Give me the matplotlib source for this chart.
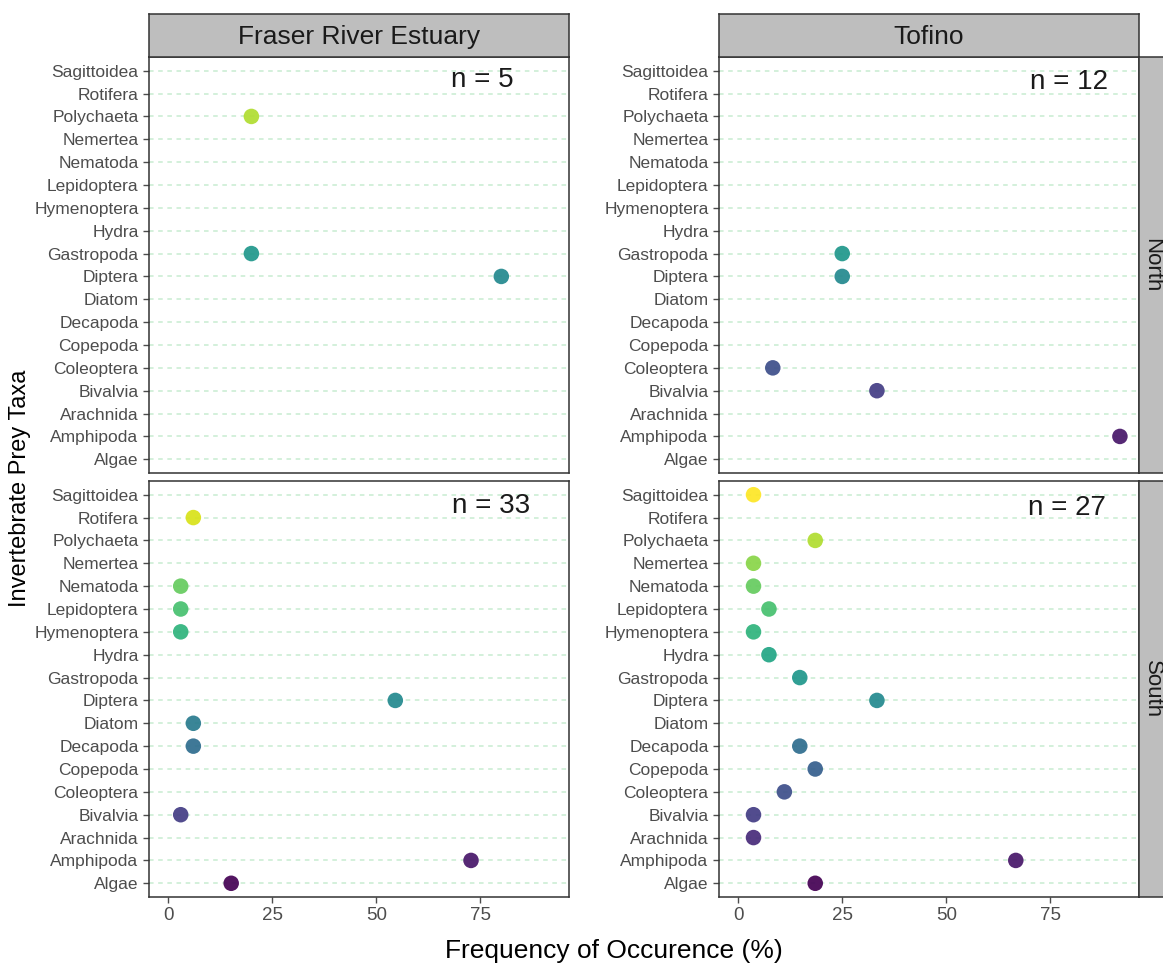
import matplotlib
matplotlib.use("Agg")
import matplotlib.pyplot as plt
import numpy as np
from matplotlib import font_manager

# taxa, bottom -> top
taxa = ["Algae", "Amphipoda", "Arachnida", "Bivalvia", "Coleoptera", "Copepoda",
        "Decapoda", "Diatom", "Diptera", "Gastropoda", "Hydra", "Hymenoptera",
        "Lepidoptera", "Nematoda", "Nemertea", "Polychaeta", "Rotifera", "Sagittoidea"]

sites = ["Fraser River Estuary", "Tofino"]
regions = ["North", "South"]

# frequency of occurence (%), missing taxon = not found
fraser_north = {"Polychaeta": 20.0, "Gastropoda": 20.0, "Diptera": 80.0}
tofino_north = {"Gastropoda": 25.0, "Diptera": 25.0, "Coleoptera": 8.33,
                "Bivalvia": 33.33, "Amphipoda": 91.67}
fraser_south = {"Rotifera": 6.06, "Nematoda": 3.03, "Lepidoptera": 3.03,
                "Hymenoptera": 3.03, "Diptera": 54.55, "Diatom": 6.06,
                "Decapoda": 6.06, "Bivalvia": 3.03, "Amphipoda": 72.73, "Algae": 15.15}
tofino_south = {"Sagittoidea": 3.70, "Polychaeta": 18.52, "Nemertea": 3.70,
                "Nematoda": 3.70, "Lepidoptera": 7.41, "Hymenoptera": 3.70,
                "Hydra": 7.41, "Gastropoda": 14.81, "Diptera": 33.33,
                "Decapoda": 14.81, "Copepoda": 18.52, "Coleoptera": 11.11,
                "Bivalvia": 3.70, "Arachnida": 3.70, "Amphipoda": 66.67, "Algae": 18.52}

sample_sizes = [[5, 12], [33, 27]]
n_label_x = [[75.5, 79.5], [77.5, 79.0]]
n_label_y = [[16.6, 16.5], [16.5, 16.4]]

x_ticks = [0, 25, 50, 75]

panels = [[fraser_north, tofino_north], [fraser_south, tofino_south]]

names = {f.name for f in font_manager.fontManager.ttflist}
narrow = "Liberation Sans Narrow" if "Liberation Sans Narrow" in names else "Liberation Sans"
plt.rcParams["font.family"] = [narrow, "DejaVu Sans"]

colors = plt.cm.viridis(np.linspace(0, 1, len(taxa)))
grid_col = "#c8ecd1"
border_col = "#333333"
strip_col = "#bebebe"
tick_col = "#4d4d4d"

fig = plt.figure(figsize=(11.63, 9.68), dpi=100)
W, H = 1163.0, 968.0

col_left = [149, 719]
col_w = 420
row_top = [57, 481]
row_h = 416

xmax = 91.67
xlim = (-0.05 * xmax, 1.05 * xmax)

for r in range(2):
    for c in range(2):
        ax = fig.add_axes([col_left[c] / W, 1 - (row_top[r] + row_h) / H, col_w / W, row_h / H])
        data = panels[r][c]
        for i, t in enumerate(taxa):
            ax.axhline(i, color=grid_col, linestyle=(0, (3, 3)), linewidth=1.1, zorder=1)
        xs = [data[t] for t in taxa if t in data]
        ys = [taxa.index(t) for t in taxa if t in data]
        cs = [colors[taxa.index(t)] for t in taxa if t in data]
        ax.scatter(xs, ys, s=125, c=cs, zorder=3, linewidths=0, alpha=0.92)
        ax.set_xlim(*xlim)
        ax.set_ylim(-0.6, len(taxa) - 0.4)
        ax.set_yticks(range(len(taxa)))
        ax.set_yticklabels(taxa)
        ax.set_xticks(x_ticks)
        ax.tick_params(axis="both", colors=tick_col, labelsize=12.5, length=4, width=1)
        ax.tick_params(axis="x", labelsize=13.5)
        if r == 0:
            ax.set_xticklabels([])
            ax.tick_params(axis="x", length=0)
        for sp in ax.spines.values():
            sp.set_color(border_col)
            sp.set_linewidth(1.1)
        ax.text(n_label_x[r][c], n_label_y[r][c], "n = %d" % sample_sizes[r][c],
                fontsize=20, color="#1a1a1a", ha="center", va="center")

        # top strips
        if r == 0:
            sax = fig.add_axes([col_left[c] / W, 1 - 57 / H, col_w / W, 43 / H])
            sax.set_facecolor(strip_col)
            sax.set_xticks([])
            sax.set_yticks([])
            for sp in sax.spines.values():
                sp.set_color(border_col)
                sp.set_linewidth(1.1)
            sax.text(0.5, 0.47, sites[c], fontsize=19, color="#1a1a1a",
                     ha="center", va="center", transform=sax.transAxes)
        # right strips (run to the image edge)
        if c == 1:
            rx = col_left[c] + col_w
            rax = fig.add_axes([rx / W, 1 - (row_top[r] + row_h) / H, (W - rx + 2) / W, row_h / H])
            rax.set_facecolor(strip_col)
            rax.set_xticks([])
            rax.set_yticks([])
            for sp in rax.spines.values():
                sp.set_color(border_col)
                sp.set_linewidth(1.1)
            rax.text(0.5, 0.5, regions[r], fontsize=16, color="#1a1a1a", rotation=270,
                     ha="center", va="center", transform=rax.transAxes,
                     family=["Liberation Sans", "DejaVu Sans"])

fig.text(614 / W, 1 - 951 / H, "Frequency of Occurence (%)", fontsize=19,
         ha="center", va="center", color="black")
fig.text(20 / W, 1 - 488 / H, "Invertebrate Prey Taxa", fontsize=17, rotation=90,
         ha="center", va="center", color="black", family=["Liberation Sans", "DejaVu Sans"])

fig.savefig("out.png", dpi=100, facecolor="white")
